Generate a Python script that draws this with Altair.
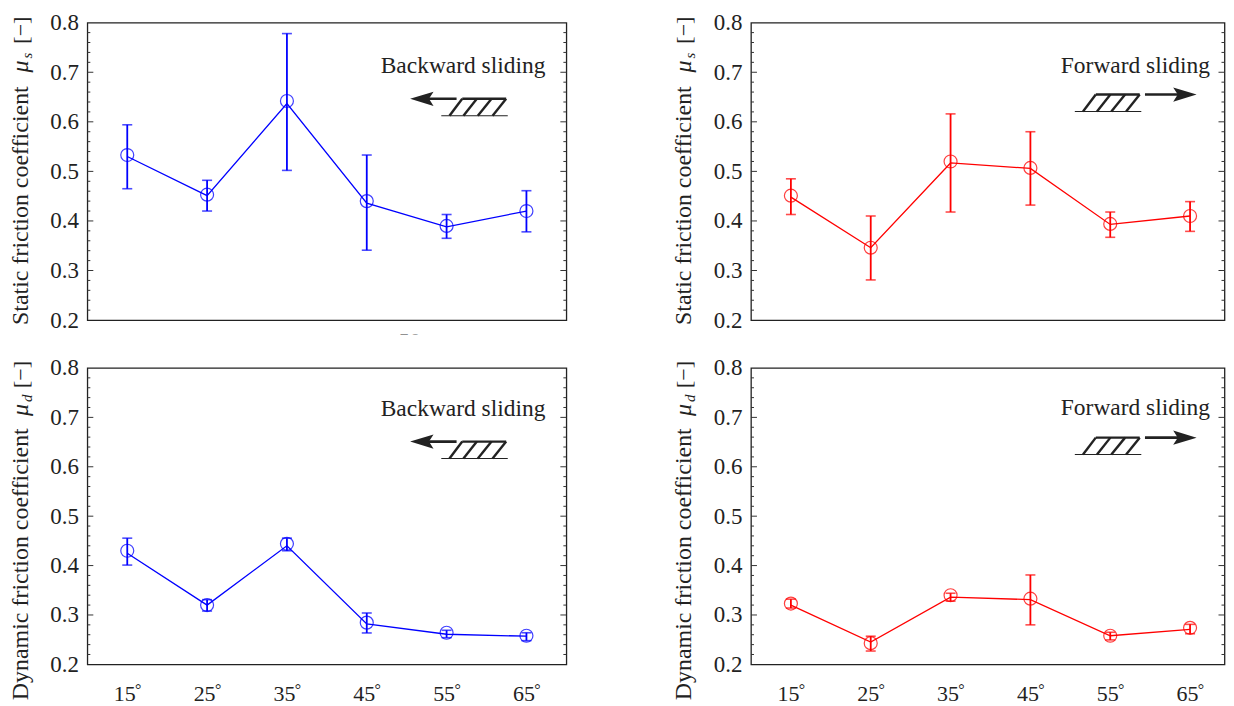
import altair as alt
import pandas as pd

ANGLES = [15, 25, 35, 45, 55, 65]
FONT = "Liberation Serif"
INK = "#222222"

TL = dict(mean=[.533, .453, .642, .440, .390, .420],
          line=[.530, .451, .637, .436, .388, .420],
          hi=[.594, .482, .778, .533, .413, .461],
          lo=[.465, .420, .502, .341, .365, .378])
TR = dict(mean=[.451, .346, .520, .507, .394, .410],
          line=[.448, .346, .517, .506, .393, .410],
          hi=[.485, .410, .616, .580, .418, .439],
          lo=[.413, .281, .418, .432, .367, .379])
BL = dict(mean=[.430, .320, .444, .2845, .264, .258],
          line=[.425, .320, .440, .282, .261, .257],
          hi=[.4555, .331, .4555, .304, .269, .264],
          lo=[.401, .308, .430, .2636, .254, .248])
BR = dict(mean=[.323, .243, .340, .333, .258, .274],
          line=[.320, .245, .336, .331, .258, .271],
          hi=[.332, .257, .344, .381, .265, .281],
          lo=[.314, .227, .328, .280, .2495, .262])

MAJOR = [.2, .3, .4, .5, .6, .7, .8]
MINOR = [.22, .24, .26, .28, .32, .34, .36, .38, .42, .44, .46, .48,
         .52, .54, .56, .58, .62, .64, .66, .68, .72, .74, .76, .78]

# hatch block, in data units relative to its top-right corner
HATCH_THICK = [(-5.5, 0, 0, 0), (0, 0, -1.7, -.0342), (-1.83, 0, -3.55, -.0342),
               (-3.67, 0, -5.35, -.0342), (-5.5, 0, -7.1, -.0342)]
HATCH_THIN = [(-8.125, -.0342, .2, -.0342)]
BACK_SHAFT = (-6.21, -10.6)
FORE_SHAFT = (.66, 5.6)
BACK_HEAD = "M -1 0 L 0.8 -0.55 L 0.45 0 L 0.8 0.55 Z"
FORE_HEAD = "M 1 0 L -0.8 -0.55 L -0.45 0 L -0.8 0.55 Z"

YS = alt.Scale(domain=[.2, .8], nice=False, zero=False)


def segs(rows, ax, ay):
    return pd.DataFrame([dict(x=ax + r[0], y=ay + r[1], x2=ax + r[2], y2=ay + r[3]) for r in rows])


def txt(text, x, y, size=24, angle=0, style="normal", align="left"):
    return alt.Chart(pd.DataFrame({"t": [text]})).mark_text(
        font=FONT, fontSize=size, fontStyle=style, angle=angle, align=align,
        baseline="alphabetic", color=INK).encode(
        text="t:N", x=alt.value(x), y=alt.value(y))


def panel(data, color, w, height, xmax, xaxis, glyph, ax, ay, label, lx, ly,
          ytitle, sub, tb, mu, sb, br, tx, extra=None):
    XS = alt.Scale(domain=[10, xmax], nice=False, zero=False)

    def rule_layer(df, width):
        return alt.Chart(df).mark_rule(color=INK, strokeWidth=width).encode(
            x=alt.X("x:Q", scale=XS), x2="x2:Q", y=alt.Y("y:Q", scale=YS), y2="y2:Q")

    df = pd.DataFrame(dict(a=ANGLES, **data))
    x = alt.X("a:Q", scale=XS, axis=alt.Axis(
        values=ANGLES, format="d", labelFont=FONT, labelFontSize=22,
        labelColor=INK, tickSize=0, domain=False, grid=False, title=None, labelPadding=19,
        labelOffset=-3, labelFlush=False, labelOverlap=False) if xaxis else None)
    y = alt.Y("mean:Q", scale=YS, axis=alt.Axis(
        values=MAJOR, format=".1f", labelFont=FONT, labelFontSize=23, labelColor=INK,
        tickSize=0, domain=False, grid=False, title=None, labelPadding=9, labelFlush=False))
    base = alt.Chart(df)
    layers = [
        base.mark_point(opacity=0).encode(x=x, y=y),
        base.mark_line(color=color, strokeWidth=1.3).encode(
            x=alt.X("a:Q", scale=XS), y=alt.Y("line:Q", scale=YS)),
        base.mark_rule(color=color, strokeWidth=1.8).encode(
            x=alt.X("a:Q", scale=XS), y=alt.Y("lo:Q", scale=YS), y2="hi:Q"),
        base.mark_tick(color=color, size=10, thickness=1.6, orient="horizontal").encode(
            x=alt.X("a:Q", scale=XS), y=alt.Y("hi:Q", scale=YS)),
        base.mark_tick(color=color, size=10, thickness=1.6, orient="horizontal").encode(
            x=alt.X("a:Q", scale=XS), y=alt.Y("lo:Q", scale=YS)),
        base.mark_point(color=color, size=169, strokeWidth=1.2, filled=False, opacity=.75).encode(
            x=alt.X("a:Q", scale=XS), y=alt.Y("mean:Q", scale=YS)),
    ]
    if xaxis:
        layers.append(base.mark_text(text="°", font=FONT, fontSize=16, color=INK, dx=11,
                                     baseline="alphabetic").encode(
            x=alt.X("a:Q", scale=XS), y=alt.value(height + 31)))
    for vals, ln in ((MAJOR[1:-1], 6), (MINOR, 3)):
        t = alt.Chart(pd.DataFrame({"v": vals}))
        layers.append(t.mark_rule(color="#333333", strokeWidth=1).encode(
            y=alt.Y("v:Q", scale=YS), x=alt.value(0), x2=alt.value(ln)))
        layers.append(t.mark_rule(color="#333333", strokeWidth=1).encode(
            y=alt.Y("v:Q", scale=YS), x=alt.value(w), x2=alt.value(w - ln)))
    # sliding glyph
    shaft, head, hx = (BACK_SHAFT, BACK_HEAD, -10.4) if glyph == "back" else (FORE_SHAFT, FORE_HEAD, 5.5)
    layers.append(rule_layer(segs(HATCH_THICK, ax, ay), 2.4))
    layers.append(rule_layer(segs(HATCH_THIN, ax, ay), 1.2))
    layers.append(rule_layer(segs([(shaft[0], 0, shaft[1], 0)], ax, ay), 2.6))
    layers.append(alt.Chart(pd.DataFrame({"x": [ax + hx], "y": [ay]})).mark_point(
        shape=head, filled=True, color=INK, opacity=1, size=680, strokeWidth=0).encode(
        x=alt.X("x:Q", scale=XS), y=alt.Y("y:Q", scale=YS)))
    # labels
    layers.append(txt(label, lx, ly, size=23.5))
    layers.append(txt(ytitle, tx, tb, size=24, angle=270))
    layers.append(txt("μ", tx, mu, size=24, angle=270, style="italic"))
    layers.append(txt(sub, tx + 4, sb, size=15, angle=270, style="italic"))
    layers.append(txt("[−]", tx, br, size=22, angle=270))
    if extra:
        layers += extra
    return alt.layer(*layers).properties(width=w, height=height)


cut_label = [
    txt("50", 312, 326, size=22),
    alt.Chart(pd.DataFrame({"k": [0]})).mark_rect(color="white").encode(
        x=alt.value(300), x2=alt.value(340), y=alt.value(312.5), y2=alt.value(332)),
]

WL, WR = 480, 474.5
XR = 10 + WR / 8

tl = panel(TL, "#0000ff", WL, 298, 70, False, "back", 62.46, .6464, "Backward sliding", 294, 50,
           "Static friction coefficient", "s", 303, 50, 36, 21, -59, cut_label)
tr = panel(TR, "#ff0000", WR, 298, XR, False, "fore", 58.69, .655, "Forward sliding", 310.5, 50,
           "Static friction coefficient", "s", 303, 50, 36, 21, -60)
bl = panel(BL, "#0000ff", WL, 297, 70, True, "back", 62.46, .651, "Backward sliding", 294, 48,
           "Dynamic friction coefficient", "d", 333, 48, 34, 20, -59)
br = panel(BR, "#ff0000", WR, 297, XR, True, "fore", 58.69, .659, "Forward sliding", 310.5, 47,
           "Dynamic friction coefficient", "d", 333, 48, 34, 20, -60)

chart = alt.concat(tl, tr, bl, br, columns=2, spacing={"row": 48, "column": 185}, bounds="flush").properties(
    padding=alt.Padding(left=0.5, top=2, right=0, bottom=0), background="white"
).configure_view(stroke=INK, strokeWidth=1.3)

chart.save("out.html", embed_options={"renderer": "svg", "actions": False})
